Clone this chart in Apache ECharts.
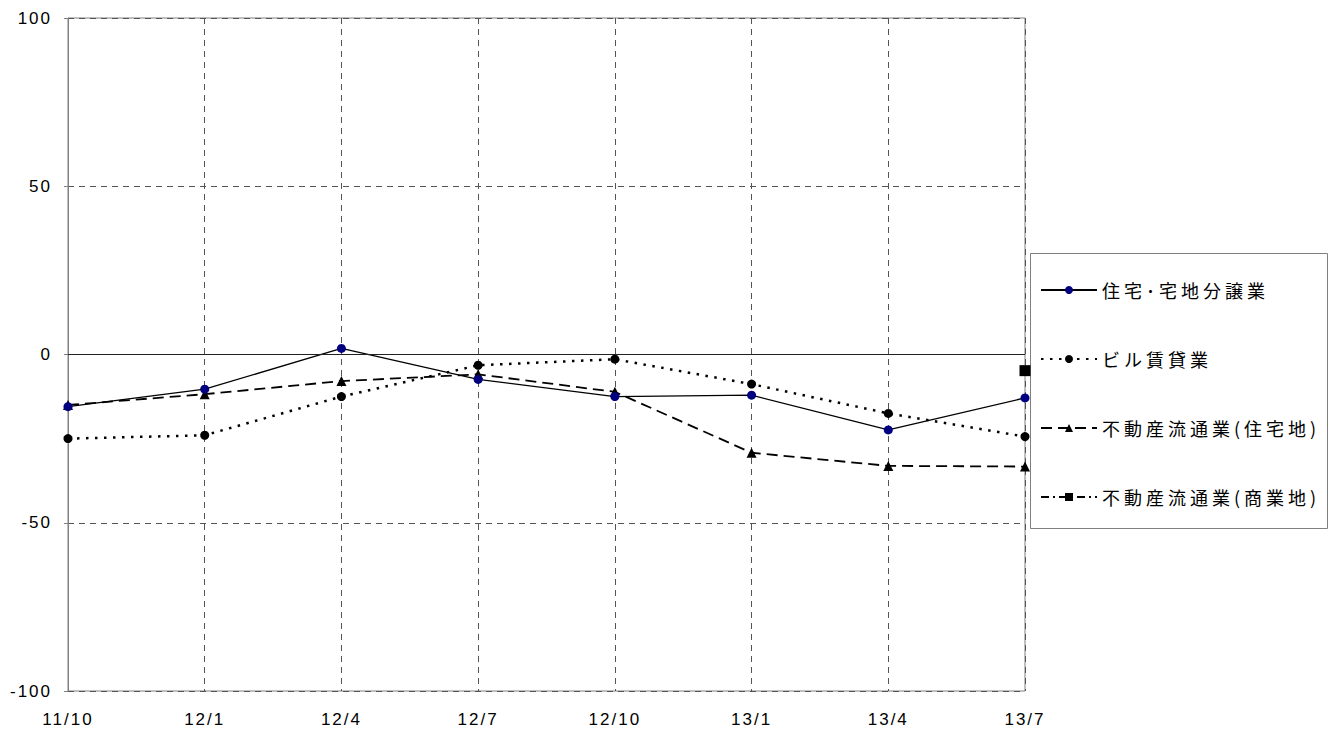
<!DOCTYPE html>
<html>
<head>
<meta charset="utf-8">
<script src="https://cdn.jsdelivr.net/npm/echarts@6/dist/echarts.min.js"></script>
<style>
  html, body { margin: 0; padding: 0; background: #fff; }
  #main { width: 1329px; height: 731px; }
  /* wider tracking for the Japanese legend labels and the axis numbers */
  #main text[style*="CJK"] { letter-spacing: 4px; }
  #main text[style*="Liberation"] { letter-spacing: 2px; }
</style>
</head>
<body>
<div id="main"></div>
<script>
// Survey periods (year/month)
const categories = ['11/10', '12/1', '12/4', '12/7', '12/10', '13/1', '13/4', '13/7'];

// Diffusion index by industry
const housingLots   = [-15.5, -10.3, 1.8, -7.4, -12.5, -12.1, -22.4, -12.9];
const officeLeasing = [-25, -24, -12.5, -3.2, -1.4, -8.8, -17.5, -24.4];
const brokerageRes  = [-15, -11.8, -7.9, -5.9, -11.1, -29.2, -33.1, -33.3];
const brokerageCom  = [null, null, null, null, null, null, null, -4.8];

// Value axis
const yMin = -100, yMax = 100, yStep = 50;

const names = ['住宅･宅地分譲業', 'ビル賃貸業', '不動産流通業(住宅地)', '不動産流通業(商業地)'];

const axisFont = { fontFamily: 'Liberation Sans', fontSize: 17, color: '#000' };
const legendFont = { fontFamily: 'Noto Sans CJK JP', fontSize: 18, color: '#000', lineHeight: 18 };

const chart = echarts.init(document.getElementById('main'), null, { renderer: 'svg' });

const legendRows = [290, 359, 428, 497];

chart.setOption({
  animation: false,
  backgroundColor: '#fff',
  grid: {
    left: 68, right: 304, top: 18, bottom: 40,
    show: true, borderColor: '#808080', borderWidth: 1
  },
  legend: names.map((n, i) => ({
    data: [n],
    left: 1040,
    top: legendRows[i] - 9,
    padding: 0,
    itemWidth: 56,
    itemHeight: 10,
    textStyle: legendFont,
    selectedMode: false
  })),
  graphic: [{
    type: 'rect',
    shape: { x: 1030.5, y: 253.5, width: 297, height: 275 },
    style: { fill: 'none', stroke: '#808080', lineWidth: 1 },
    silent: true,
    z: 0
  }],
  xAxis: {
    type: 'category',
    data: categories,
    boundaryGap: false,
    axisLine: { lineStyle: { color: '#808080', width: 1 } },
    axisTick: { show: false },
    axisLabel: {
      margin: 20, interval: 0,
      fontFamily: axisFont.fontFamily, fontSize: axisFont.fontSize, color: axisFont.color
    },
    splitLine: { show: true, lineStyle: { color: '#555', type: [6, 5], width: 1 } }
  },
  yAxis: {
    type: 'value',
    min: yMin, max: yMax, interval: yStep,
    axisLine: { show: true, lineStyle: { color: '#808080', width: 1 } },
    axisTick: { show: true, length: 4, lineStyle: { color: '#808080' } },
    axisLabel: {
      margin: 16,
      fontFamily: axisFont.fontFamily, fontSize: axisFont.fontSize, color: axisFont.color
    },
    splitLine: { show: true, lineStyle: { color: '#555', type: [6, 5], width: 1 } }
  },
  series: [
    {
      name: names[0], type: 'line', data: housingLots,
      symbol: 'circle', symbolSize: 9,
      itemStyle: { color: '#000080', borderWidth: 0 },
      lineStyle: { color: '#000', width: 1.3, type: 'solid' },
      z: 4,
      markLine: {
        silent: true, symbol: 'none', label: { show: false },
        lineStyle: { color: '#222', type: 'solid', width: 1 },
        data: [{ yAxis: 0 }]
      }
    },
    {
      name: names[1], type: 'line', data: officeLeasing,
      symbol: 'circle', symbolSize: 9,
      itemStyle: { color: '#000', borderWidth: 0 },
      lineStyle: { color: '#000', width: 2.5, type: [2.5, 6.5] },
      z: 3
    },
    {
      name: names[2], type: 'line', data: brokerageRes,
      symbol: 'triangle', symbolSize: 10,
      itemStyle: { color: '#000', borderWidth: 0 },
      lineStyle: { color: '#000', width: 1.8, type: [11, 6] },
      z: 3
    },
    {
      name: names[3], type: 'line', data: brokerageCom,
      symbol: 'rect', symbolSize: 11,
      itemStyle: { color: '#000', borderWidth: 0 },
      lineStyle: { color: '#000', width: 1.8, type: [8, 4, 2, 4] },
      z: 5
    }
  ]
});
</script>
</body>
</html>
